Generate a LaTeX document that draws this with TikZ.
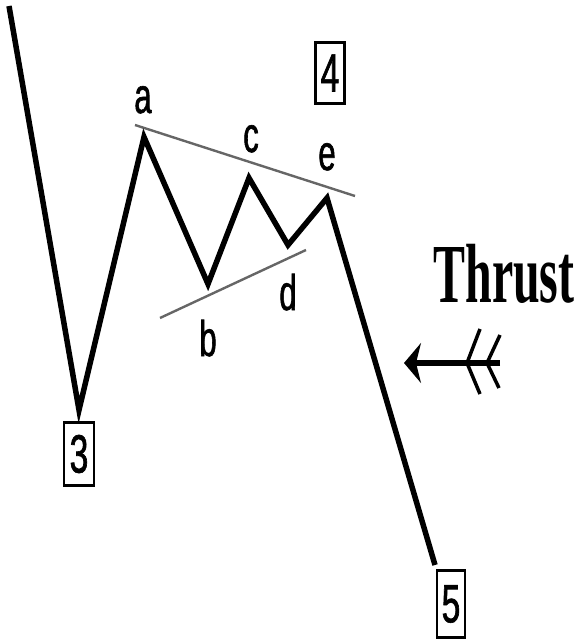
\documentclass[tikz,border=0pt]{standalone}
\usepackage{fontspec}
\usepackage{tikz}
\usetikzlibrary{arrows.meta}
\newfontfamily\lblfont[FakeStretch=0.62, FakeBold=1.2]{Liberation Sans}
\newfontfamily\thrustfont[FakeStretch=0.57]{Liberation Serif}

\begin{document}
\begin{tikzpicture}[
  x=1pt, y=-1pt,
  wave/.style={line width=5.5pt, line join=miter},
  trend/.style={line width=2.4pt, black!60},
  lbl/.style={anchor=base, inner sep=0pt, font=\lblfont\fontsize{50}{50}\selectfont},
  box/.style={draw, line width=2.2pt, inner sep=0pt, font=\lblfont\fontsize{54}{54}\selectfont},
  fletch/.style={line width=3.5pt}
]
\useasboundingbox (0,0) rectangle (577,639);

% wave points
\coordinate (w0) at (9,6);
\coordinate (w3) at (79,410);
\coordinate (wa) at (144,137);
\coordinate (wb) at (208,284);
\coordinate (wc) at (249,178);
\coordinate (wd) at (288,245);
\coordinate (we) at (327,198);
\coordinate (w5) at (435,565);

% trend lines
\coordinate (ta) at (135,125);
\coordinate (te) at (355,196);
\coordinate (tb) at (160,318);
\coordinate (td) at (306,250);
\draw[trend] (ta) -- (te);
\draw[trend] (tb) -- (td);

\draw[wave] (w0) -- (w3) -- (wa) -- (wb) -- (wc) -- (wd) -- (we) -- (w5);

% letters
\node[lbl] (la) at (143,113) {a};
\node[lbl] (lb) at (208,356) {b};
\node[lbl] (lc) at (251,152) {c};
\node[lbl] (ld) at (288,310) {d};
\node[lbl] (le) at (327,170) {e};

% wave numbers
\node[box, minimum width=30pt, minimum height=63pt] (n3) at (79,454) {3};
\node[box, minimum width=29pt, minimum height=61pt] (n4) at (330,73) {4};
\node[box, minimum width=28pt, minimum height=67pt] (n5) at (451,604) {5};

% thrust
\node[inner sep=0pt, font=\thrustfont\bfseries\fontsize{84}{84}\selectfont] (thrust) at (504,274) {Thrust};
\coordinate (tail) at (500,363);
\coordinate (tip) at (404,363);
\draw[line width=6pt, -{Stealth[length=17pt, width=40pt, inset=5pt]}] (tail) -- (tip);
\draw[fletch] (480,329) -- (467,363) -- (480,394);
\draw[fletch] (500,335) -- (487,363) -- (499,388);
\end{tikzpicture}
\end{document}
